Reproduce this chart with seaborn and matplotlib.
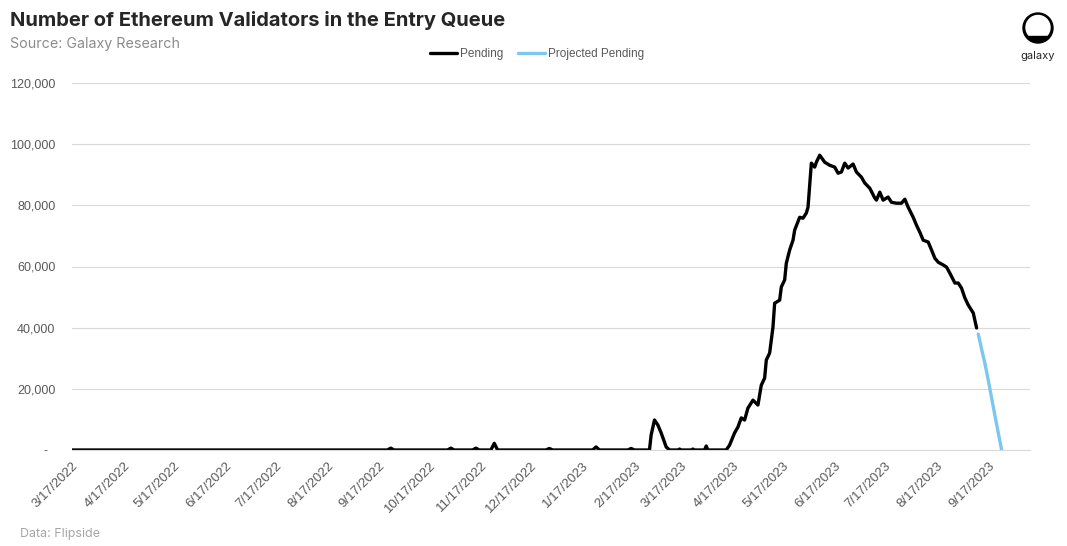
import pandas as pd
import seaborn as sns
import matplotlib.pyplot as plt
import matplotlib.dates as mdates
from matplotlib.ticker import FuncFormatter
from matplotlib.patches import Circle, Rectangle

# pending validators
pending_dates = [
    '2022-03-17', '2022-09-22', '2022-09-24', '2022-09-26', '2022-10-28', '2022-10-30',
    '2022-11-01', '2022-11-12', '2022-11-14', '2022-11-16', '2022-11-23', '2022-11-25',
    '2022-11-27', '2022-12-26', '2022-12-28', '2022-12-30', '2023-01-23', '2023-01-25',
    '2023-01-27', '2023-02-13', '2023-02-15', '2023-02-17', '2023-02-26', '2023-02-27',
    '2023-03-01', '2023-03-03', '2023-03-05', '2023-03-08', '2023-03-10', '2023-03-15',
    '2023-03-16', '2023-03-17', '2023-03-23', '2023-03-24', '2023-03-25', '2023-03-31',
    '2023-04-01', '2023-04-02', '2023-04-13', '2023-04-15', '2023-04-18', '2023-04-20',
    '2023-04-22', '2023-04-24', '2023-04-26', '2023-04-29', '2023-05-02', '2023-05-04',
    '2023-05-06', '2023-05-07', '2023-05-09', '2023-05-11', '2023-05-12', '2023-05-15',
    '2023-05-16', '2023-05-18', '2023-05-19', '2023-05-21', '2023-05-23', '2023-05-24',
    '2023-05-27', '2023-05-29', '2023-05-31', '2023-06-01', '2023-06-03', '2023-06-05',
    '2023-06-06', '2023-06-08', '2023-06-11', '2023-06-14', '2023-06-17', '2023-06-19',
    '2023-06-21', '2023-06-23', '2023-06-25', '2023-06-28', '2023-06-30', '2023-07-03',
    '2023-07-05', '2023-07-08', '2023-07-11', '2023-07-12', '2023-07-14', '2023-07-16',
    '2023-07-19', '2023-07-21', '2023-07-24', '2023-07-27', '2023-07-29', '2023-07-31',
    '2023-08-03', '2023-08-05', '2023-08-07', '2023-08-09', '2023-08-12', '2023-08-14',
    '2023-08-16', '2023-08-18', '2023-08-21', '2023-08-23', '2023-08-25', '2023-08-28',
    '2023-08-30', '2023-09-01', '2023-09-03', '2023-09-05', '2023-09-08', '2023-09-10',
]
pending_values = [
    0, 0, 600, 0, 0, 600,
    0, 0, 600, 0, 0, 2200,
    0, 0, 500, 0, 0, 1000,
    0, 0, 500, 0, 0, 4900,
    9800, 8200, 5600, 1000, 0, 0,
    300, 0, 0, 300, 0, 0,
    1300, 0, 0, 1600, 5600, 7500,
    10500, 9800, 13700, 16300, 14700, 21200,
    23500, 29400, 31700, 40200, 48000, 49000,
    53300, 55600, 61100, 65400, 68600, 71900,
    76100, 75800, 77500, 79400, 93800, 92500,
    94100, 96400, 94100, 93100, 92500, 90500,
    90900, 93800, 92200, 93500, 90900, 89200,
    87300, 85600, 82400, 81700, 84300, 81700,
    82700, 81000, 80700, 80700, 82000, 79400,
    76100, 73500, 71200, 68600, 68000, 65400,
    62700, 61400, 60500, 59800, 57800, 54600,
    54600, 52900, 49700, 47400, 44800, 39900,
]

# projected pending
projected_dates = ['2023-09-11', '2023-09-13', '2023-09-15', '2023-09-17', '2023-09-19',
                   '2023-09-21', '2023-09-23', '2023-09-25']
projected_values = [37900, 33000, 28300, 22800, 17000, 11200, 5600, 0]

tick_dates = pd.date_range('2022-03-01', '2023-09-01', freq='MS') + pd.Timedelta(days=16)
y_ticks = [0, 20000, 40000, 60000, 80000, 100000, 120000]

pending = pd.DataFrame({'Date': pd.to_datetime(pending_dates), 'Validators': pending_values})
projected = pd.DataFrame({'Date': pd.to_datetime(projected_dates), 'Validators': projected_values})

sns.set_style('white')
plt.rcParams['font.family'] = ['Liberation Sans', 'DejaVu Sans']

fig = plt.figure(figsize=(10.67, 5.46), dpi=100)
ax = fig.add_axes([72 / 1067, 1 - 450 / 546, (1030 - 72) / 1067, (450 - 83) / 546])

sns.lineplot(x='Date', y='Validators', data=pending, ax=ax, color='black', lw=2.4,
             label='Pending')
sns.lineplot(x='Date', y='Validators', data=projected, ax=ax, color='#7CC7EE', lw=2.4,
             label='Projected Pending')

ax.set_xlim(pd.Timestamp('2022-03-17'), pd.Timestamp('2023-10-12'))
ax.set_ylim(0, 120000)
ax.set_yticks(y_ticks)
ax.yaxis.set_major_formatter(FuncFormatter(lambda v, p: '-  ' if v == 0 else f'{v:,.0f}'))
ax.set_xticks(tick_dates)
ax.xaxis.set_major_formatter(FuncFormatter(
    lambda v, p: f'{mdates.num2date(v).month}/{mdates.num2date(v).day}/{mdates.num2date(v).year}'))
plt.setp(ax.get_xticklabels(), rotation=45, ha='right', rotation_mode='anchor')
ax.tick_params(axis='x', colors='#D9D9D9', labelcolor='#595959', labelsize=9.5, length=4,
               width=0.8, direction='out', pad=3)
ax.tick_params(axis='y', labelcolor='#595959', labelsize=9, length=0, pad=12)
ax.grid(axis='y', color='#D9D9D9', lw=0.8)
ax.set_axisbelow(True)
for s in ['top', 'right', 'left']:
    ax.spines[s].set_visible(False)
ax.spines['bottom'].set_color('#D9D9D9')
ax.set_xlabel('')
ax.set_ylabel('')

ax.legend(loc='center', bbox_to_anchor=(537 / 1067, 1 - 54 / 546), bbox_transform=fig.transFigure,
          ncol=2, frameon=False, fontsize=8.5, labelcolor='#595959', handlelength=2.3,
          handletextpad=0.3, columnspacing=1.2)

# title block
fig.text(10 / 1067, 1 - 20 / 546, 'Number of Ethereum Validators in the Entry Queue',
         fontsize=14.5, fontweight='bold', family=['Inter', 'DejaVu Sans'], va='center')
fig.text(10 / 1067, 1 - 44 / 546, 'Source: Galaxy Research', fontsize=10.3, color='#8C8C8C',
         family=['Inter', 'DejaVu Sans'], va='center')
fig.text(20 / 1067, 1 - 534 / 546, 'Data: Flipside', fontsize=9, color='#A6A6A6',
         family=['Inter', 'DejaVu Sans'], va='center')

# galaxy logo
lax = fig.add_axes([1020 / 1067, 1 - 46 / 546, 36 / 1067, 36 / 546])
lax.set_xlim(0, 36)
lax.set_ylim(0, 36)
lax.axis('off')
outer = Circle((18, 18), 15, color='black')
lax.add_patch(outer)
lax.add_patch(Circle((18, 18.5), 12, color='white'))
bar = Rectangle((2, 2), 32, 8.5, color='black')
lax.add_patch(bar)
bar.set_clip_path(outer)
fig.text(1038 / 1067, 1 - 56 / 546, 'galaxy', fontsize=8, ha='center', va='center',
         family=['Inter', 'DejaVu Sans'])

fig.savefig('out.png', dpi=100)
